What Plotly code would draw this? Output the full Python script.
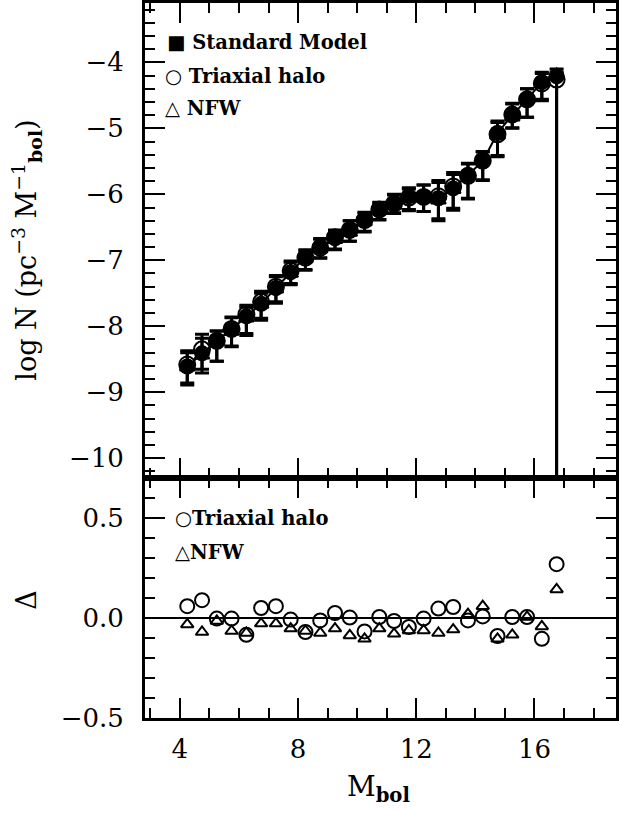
import plotly.graph_objects as go
from plotly.subplots import make_subplots

# ---------------- data ----------------
M_bol = [4.25, 4.75, 5.25, 5.75, 6.25, 6.75, 7.25, 7.75, 8.25, 8.75,
         9.25, 9.75, 10.25, 10.75, 11.25, 11.75, 12.25, 12.75, 13.25, 13.75,
         14.25, 14.75, 15.25, 15.75, 16.25, 16.75]

std_logN = [-8.61, -8.41, -8.22, -8.05, -7.85, -7.66, -7.42, -7.18, -6.95, -6.80,
            -6.66, -6.54, -6.38, -6.24, -6.13, -6.03, -6.04, -6.06, -5.91, -5.71,
            -5.50, -5.07, -4.80, -4.56, -4.30, -4.21]
err_plus = [0.21, 0.23, 0.15, 0.18, 0.14, 0.16, 0.17, 0.15, 0.11, 0.13,
            0.11, 0.14, 0.11, 0.11, 0.13, 0.13, 0.18, 0.24, 0.21, 0.18,
            0.14, 0.18, 0.17, 0.16, 0.15, 0.11]
err_minus = [0.28, 0.30, 0.31, 0.26, 0.29, 0.25, 0.23, 0.19, 0.19, 0.16,
             0.18, 0.17, 0.18, 0.15, 0.15, 0.20, 0.22, 0.34, 0.33, 0.35,
             0.29, 0.34, 0.20, 0.27, 0.26, 7.00]

triax_logN = [-8.58, -8.35, -8.22, -8.04, -7.82, -7.63, -7.40, -7.16, -6.96, -6.81,
              -6.65, -6.54, -6.39, -6.23, -6.14, -6.05, -6.04, -6.03, -5.88, -5.72,
              -5.49, -5.09, -4.79, -4.56, -4.32, -4.26]
nfw_logN = [-8.62, -8.44, -8.23, -8.08, -7.88, -7.67, -7.44, -7.20, -6.98, -6.83,
            -6.69, -6.58, -6.42, -6.25, -6.17, -6.06, -6.06, -6.09, -5.93, -5.70,
            -5.47, -5.11, -4.83, -4.56, -4.31, -4.19]

delta_triax = [0.059, 0.089, -0.003, -0.003, -0.084, 0.050, 0.059, -0.008, -0.070, -0.012,
               0.025, 0.002, -0.067, 0.005, -0.015, -0.045, -0.003, 0.047, 0.055, -0.012,
               0.008, -0.090, 0.005, 0.005, -0.104, 0.269]
delta_nfw = [-0.032, -0.070, -0.015, -0.065, -0.075, -0.028, -0.028, -0.053, -0.065, -0.075,
             -0.053, -0.087, -0.104, -0.053, -0.079, -0.062, -0.062, -0.075, -0.058, 0.019,
             0.059, -0.104, -0.084, 0.005, -0.042, 0.143]

top_ticks = [-4, -5, -6, -7, -8, -9, -10]
bot_ticks = [0.5, 0.0, -0.5]
x_ticks = [4, 8, 12, 16]

# ---------------- figure ----------------
W, H = 619, 813
L, R, T, B = 145, 0, 3, 95
fig = make_subplots(rows=2, cols=1, shared_xaxes=True, vertical_spacing=0,
                    row_heights=[475, 240])

serif = "DejaVu Serif"

fig.add_trace(go.Scatter(
    x=M_bol, y=nfw_logN, mode="markers",
    marker=dict(symbol="triangle-up-open", size=13, color="black", line=dict(width=2)),
    showlegend=False), row=1, col=1)
fig.add_trace(go.Scatter(
    x=M_bol, y=triax_logN, mode="markers",
    marker=dict(symbol="circle-open", size=16, color="black", line=dict(width=2)),
    error_y=dict(type="data", symmetric=False, array=err_plus, arrayminus=err_minus,
                 color="black", thickness=3, width=7),
    showlegend=False), row=1, col=1)
fig.add_trace(go.Scatter(
    x=M_bol, y=std_logN, mode="lines+markers",
    line=dict(color="black", width=2),
    marker=dict(symbol="circle", size=16, color="black"),
    error_y=dict(type="data", symmetric=False, array=err_plus, arrayminus=err_minus,
                 color="black", thickness=3, width=7),
    showlegend=False), row=1, col=1)

fig.add_trace(go.Scatter(
    x=M_bol, y=delta_triax, mode="markers",
    marker=dict(symbol="circle-open", size=14, color="black", line=dict(width=2)),
    showlegend=False), row=2, col=1)
fig.add_trace(go.Scatter(
    x=M_bol, y=delta_nfw, mode="markers",
    marker=dict(symbol="triangle-up-open", size=11, color="black", line=dict(width=2)),
    showlegend=False), row=2, col=1)

axis_common = dict(showline=True, linewidth=3, linecolor="black", mirror="ticks",
                   ticks="inside", ticklen=20, tickwidth=2, tickcolor="black",
                   showgrid=False, zeroline=False,
                   tickfont=dict(family=serif, size=26, color="black"))

fig.update_xaxes(**axis_common, range=[2.82, 18.76], tickvals=x_ticks,
                 minor=dict(dtick=1, tick0=0, ticklen=10, tickwidth=2, tickcolor="black",
                            ticks="inside", showgrid=False))
fig.update_xaxes(showticklabels=False, row=1, col=1)
fig.update_xaxes(showticklabels=True, ticklabelstandoff=6, row=2, col=1)

fig.update_yaxes(**axis_common)
fig.update_yaxes(range=[-10.3, -3.1], tickvals=top_ticks, ticklabelstandoff=13,
                 minor=dict(dtick=0.2, tick0=0, ticklen=10, tickwidth=2, tickcolor="black",
                            ticks="inside", showgrid=False),
                 row=1, col=1)
fig.update_yaxes(range=[-0.5, 0.7], tickvals=bot_ticks, tickformat=".1f",
                 ticklabelstandoff=13,
                 zeroline=True, zerolinecolor="black", zerolinewidth=2,
                 minor=dict(dtick=0.1, tick0=0, ticklen=10, tickwidth=2, tickcolor="black",
                            ticks="inside", showgrid=False),
                 row=2, col=1)

PW, PH = W - L - R, H - T - B


def px(xp):
    return (xp - L) / PW


def py(yp):
    return (H - B - yp) / PH


leg_font = dict(family=serif, size=19.5, color="black")
annots = [
    ("<b>■ Standard Model</b>", 165, 43),
    ("<b>○ Triaxial halo</b>", 163, 76),
    ("<b>△ NFW</b>", 163, 108),
    ("<b>○Triaxial halo</b>", 173, 518),
    ("<b>△NFW</b>", 173, 552),
]
for txt, xp, yp in annots:
    fig.add_annotation(text=txt, x=px(xp), y=py(yp), xref="paper", yref="paper",
                       xanchor="left", yanchor="middle", showarrow=False, font=leg_font)

fig.add_annotation(text="log N (pc<sup>−3</sup> M<sup>−1</sup><sub><b>bol</b></sub>)",
                   x=px(25), y=py(250), xref="paper", yref="paper", textangle=-90,
                   xanchor="center", yanchor="middle", showarrow=False,
                   font=dict(family=serif, size=27, color="black"))
fig.add_annotation(text="Δ", x=px(25), y=py(600), xref="paper", yref="paper",
                   textangle=-90, xanchor="center", yanchor="middle", showarrow=False,
                   font=dict(family=serif, size=27, color="black"))
fig.add_annotation(text="M<sub><b>bol</b></sub>", x=px(380), y=py(788), xref="paper",
                   yref="paper", xanchor="center", yanchor="middle", showarrow=False,
                   font=dict(family=serif, size=28, color="black"))

fig.update_layout(width=W, height=H, margin=dict(l=L, r=R, t=T, b=B),
                  plot_bgcolor="white", paper_bgcolor="white")

fig.write_html("out.html", config={"displayModeBar": False},
               post_script="document.body.style.margin='0';document.body.style.overflow='hidden';")
